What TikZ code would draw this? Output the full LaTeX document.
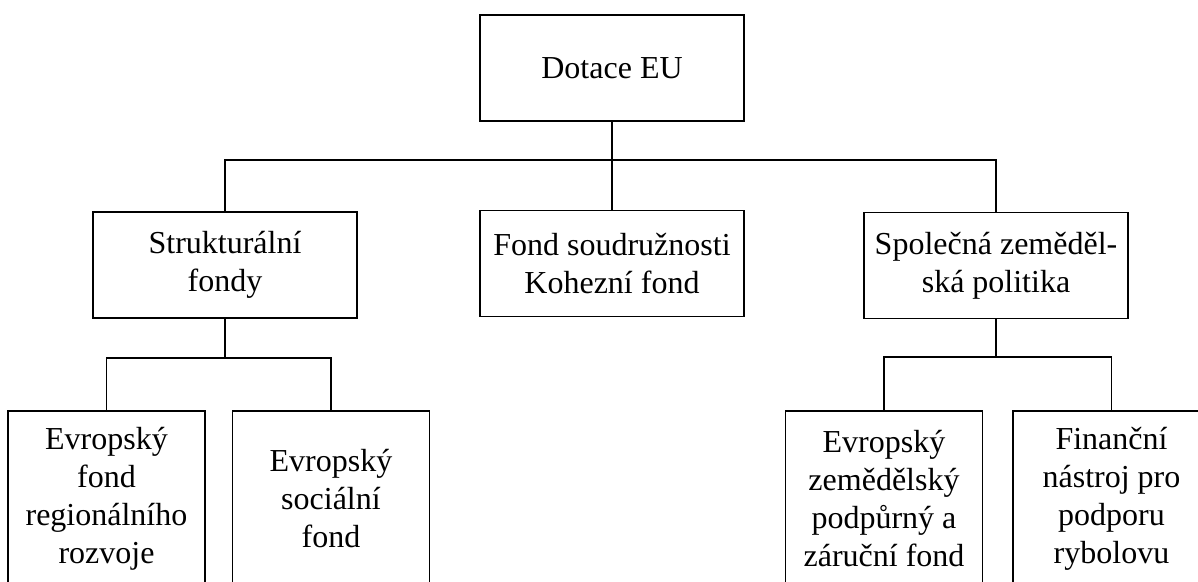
\documentclass[tikz,border=0pt]{standalone}
\usepackage{fontspec}
\setmainfont{Liberation Serif}
\begin{document}
\begin{tikzpicture}[x=1pt,y=1pt,line width=1.8pt,
  box/.style={draw,rectangle,align=center,inner sep=0pt,font=\fontsize{32}{38}\selectfont},
  upper/.style={box,minimum width=264pt,minimum height=106pt},
  leaf/.style={box,minimum width=197pt,minimum height=176pt}]
  \clip (0,0) rectangle (1198,-581);
  \node [upper] (dotace) at (612,-68) {Dotace EU};
  \node [upper] (struktur) at (225,-265) {Strukturální\\fondy};
  \node [upper] (koheze) at (612,-263.5) {Fond soudružnosti\\Kohezní fond};
  \node [upper] (szp) at (996,-265.5) {Společná zeměděl-\\ská politika};
  \node [leaf] (efrr) at (106.5,-499) {Evropský\\fond\\regionálního\\rozvoje};
  \node [leaf] (esf) at (331,-499) {Evropský\\sociální\\fond};
  \node [leaf] (ezpzf) at (884,-499) {Evropský\\zemědělský\\podpůrný a\\záruční fond};
  \node [leaf] (fnpr) at (1111.5,-499) {Finanční\\nástroj pro\\podporu\\rybolovu};
  \coordinate (bus) at (0,-160);
  \coordinate (busl) at (0,-358);
  \coordinate (busr) at (0,-357);
  \draw (dotace) -- (koheze);
  \draw (struktur.north) -- (struktur.north |- bus) -- (szp.north |- bus) -- (szp.north);
  \draw (struktur) -- (struktur.south |- busl);
  \draw (efrr.north) -- (efrr.north |- busl) -- (esf.north |- busl) -- (esf.north);
  \draw (szp) -- (szp.south |- busr);
  \draw (ezpzf.north) -- (ezpzf.north |- busr) -- (fnpr.north |- busr) -- (fnpr.north);
\end{tikzpicture}
\end{document}
